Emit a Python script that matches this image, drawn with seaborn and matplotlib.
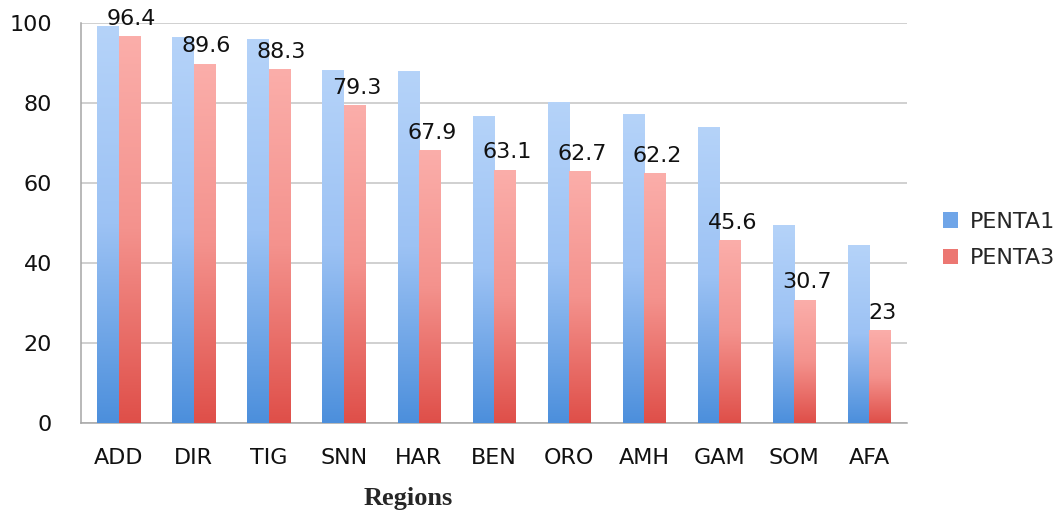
import numpy as np
import pandas as pd
import matplotlib
matplotlib.use("Agg")
import matplotlib.pyplot as plt
from matplotlib.colors import LinearSegmentedColormap
from matplotlib.patches import Patch
import seaborn as sns

regions = ['ADD', 'DIR', 'TIG', 'SNN', 'HAR', 'BEN', 'ORO', 'AMH', 'GAM', 'SOM', 'AFA']
penta1 = [98.9, 96.3, 95.7, 87.9, 87.8, 76.5, 80.1, 77.0, 73.8, 49.4, 44.3]
penta3 = [96.4, 89.6, 88.3, 79.3, 67.9, 63.1, 62.7, 62.2, 45.6, 30.7, 23]
series = ['PENTA1', 'PENTA3']

df = pd.DataFrame({
    'Region': regions * 2,
    'Value': penta1 + penta3,
    'Series': [series[0]] * len(regions) + [series[1]] * len(regions),
})

sns.set_style('white')
plt.rcParams['font.family'] = ['DejaVu Sans']

# light top -> dark bottom, like the Excel gradient fill
grads = {
    'PENTA1': LinearSegmentedColormap.from_list('b', ['#4c8fdc', '#9cc2f4', '#b5d3f9']),
    'PENTA3': LinearSegmentedColormap.from_list('r', ['#df4f49', '#f4928d', '#fbaeaa']),
}
mid = {'PENTA1': '#6fa5e8', 'PENTA3': '#ec7772'}

fig = plt.figure(figsize=(10.64, 5.11), dpi=100)
ax = fig.add_axes([81 / 1064, 1 - 423.3 / 511, 826 / 1064, 400.6 / 511])

sns.barplot(data=df, x='Region', y='Value', hue='Series', order=regions,
            hue_order=series, palette=mid, width=0.57, ax=ax, legend=False,
            zorder=3)

# repaint every bar with a vertical gradient
grad = np.linspace(0, 1, 256).reshape(-1, 1)
bars = [p for p in ax.patches]
for i, p in enumerate(bars):
    name = series[i // len(regions)]
    x0, y0 = p.get_x(), p.get_y()
    w, h = p.get_width(), p.get_height()
    ax.imshow(grad, cmap=grads[name], origin='lower', aspect='auto',
              extent=[x0, x0 + w, y0, y0 + h], zorder=3)
    p.set_visible(False)
ax.set_ylim(0, 100)
ax.set_xlim(-0.5, len(regions) - 0.5)

# data labels on PENTA3 only
red_bars = bars[len(regions):]
for p, v in zip(red_bars, penta3):
    ax.annotate(f'{v:g}', (p.get_x() + p.get_width() / 2 + 0.03, v),
                xytext=(0, 13), textcoords='offset points',
                ha='center', va='center', fontsize=16, color='#111111',
                zorder=5)

ax.set_yticks(range(0, 101, 20))
ax.yaxis.grid(True, color='#c4c4c4', linewidth=1.1, zorder=0)
ax.set_axisbelow(True)
for s in ['top', 'right']:
    ax.spines[s].set_visible(False)
for s in ['left', 'bottom']:
    ax.spines[s].set_color('#a6a6a6')
    ax.spines[s].set_linewidth(1.1)

ax.tick_params(axis='y', length=5, width=1, color='#a6a6a6', pad=16,
               labelsize=16, labelcolor='#111111')
ax.tick_params(axis='x', which='major', length=0, pad=18, labelsize=16,
               labelcolor='#111111')
ax.set_xticks(np.arange(-0.5, len(regions)), minor=True)
ax.tick_params(axis='x', which='minor', length=6, width=1, color='#a6a6a6')
ax.set_xlabel('')
ax.set_ylabel('')

fig.text(408 / 1064, 1 - 498 / 511, 'Regions', ha='center', va='center',
         fontsize=19, fontweight='bold', family='Liberation Serif')

handles = [Patch(facecolor=mid[s], edgecolor='none') for s in series]
fig.legend(handles, series, loc='center left',
           bbox_to_anchor=(934 / 1064, 1 - 240 / 511), frameon=False,
           fontsize=16, handlelength=0.7, handleheight=0.7,
           handletextpad=0.5, labelspacing=0.75, borderaxespad=0)

fig.savefig('out.png', dpi=100)
